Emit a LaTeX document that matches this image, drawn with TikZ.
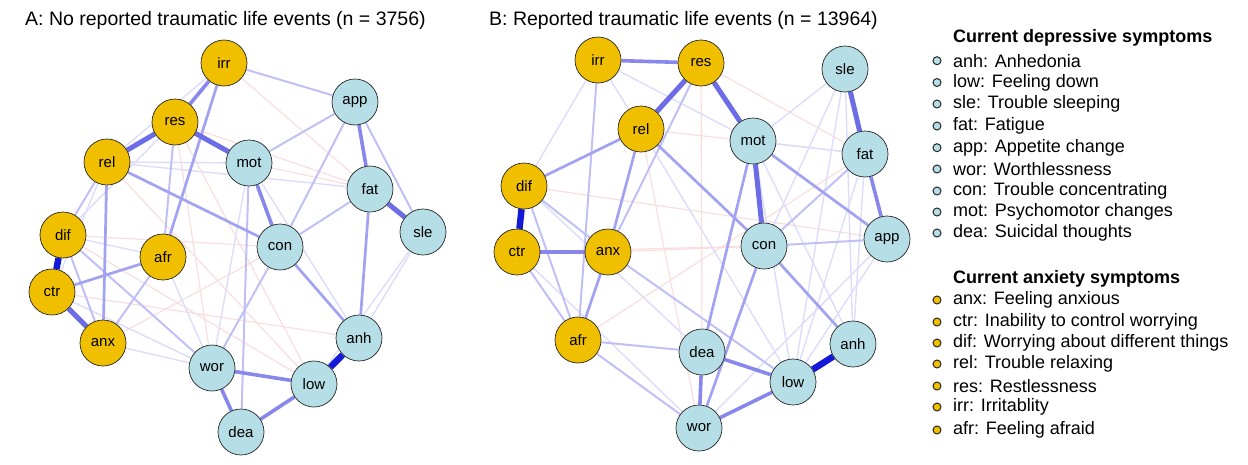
\documentclass[tikz,border=0pt]{standalone}
\usepackage{fontspec}
\setmainfont{Liberation Sans}
\pgfdeclarelayer{bg}
\pgfsetlayers{bg,main}
\definecolor{gold}{RGB}{240,192,0}
\definecolor{lblue}{RGB}{182,222,230}
\definecolor{c5}{RGB}{20,25,215}
\definecolor{c4}{RGB}{108,108,230}
\definecolor{c3}{RGB}{135,135,236}
\definecolor{c2}{RGB}{162,162,242}
\definecolor{c1}{RGB}{192,192,247}
\definecolor{c0}{RGB}{220,220,251}
\definecolor{cn}{RGB}{250,222,222}
\begin{document}
\begin{tikzpicture}[x=1pt,y=-1pt,
  sym/.style={circle,draw=black!85,line width=0.7pt,minimum size=46pt,inner sep=0pt,font=\fontsize{15}{15}\selectfont},
  an/.style={sym,fill=gold},
  dn/.style={sym,fill=lblue},
  e5/.style={draw=c5,line width=6.5pt},
  e4/.style={draw=c4,line width=5pt},
  e3/.style={draw=c3,line width=3.6pt},
  e2/.style={draw=c2,line width=2.7pt},
  e1/.style={draw=c1,line width=2pt},
  e0/.style={draw=c0,line width=1.4pt},
  n0/.style={draw=cn,line width=1.2pt},
  ttl/.style={anchor=west,inner sep=0pt,font=\fontsize{19.5}{20}\selectfont},
  leghead/.style={anchor=west,inner sep=0pt,font=\fontsize{18}{20}\selectfont\bfseries},
  legtxt/.style={anchor=west,inner sep=0pt,font=\fontsize{18}{20}\selectfont},
  legdot/.style={circle,draw=black!85,line width=1pt,minimum size=8pt,inner sep=0pt}
]
\path[use as bounding box] (0,0) rectangle (1248,464);

% titles
\node[ttl] (ta) at (25,20) {A: No reported traumatic life events (n = 3756)};
\node[ttl] (tb) at (489,20) {B: Reported traumatic life events (n = 13964)};

% panel A nodes
\node[an] (airr) at (224,63) {irr};
\node[an] (ares) at (175,122) {res};
\node[an] (arel) at (107,162) {rel};
\node[dn] (amot) at (249,163) {mot};
\node[dn] (aapp) at (355,102) {app};
\node[dn] (afat) at (370,189) {fat};
\node[dn] (asle) at (423,232) {sle};
\node[dn] (acon) at (280,247) {con};
\node[an] (adif) at (63,235) {dif};
\node[an] (aafr) at (163,257) {afr};
\node[an] (actr) at (52,292) {ctr};
\node[an] (aanx) at (103,343) {anx};
\node[dn] (awor) at (212,368) {wor};
\node[dn] (aanh) at (359,338) {anh};
\node[dn] (alow) at (314,384) {low};
\node[dn] (adea) at (241,432) {dea};

% panel B nodes
\node[an] (birr) at (598,60) {irr};
\node[an] (bres) at (701,63) {res};
\node[dn] (bsle) at (845,69) {sle};
\node[an] (brel) at (641,129) {rel};
\node[dn] (bmot) at (753,141) {mot};
\node[dn] (bfat) at (865,154) {fat};
\node[an] (bdif) at (524,186) {dif};
\node[an] (bctr) at (517,252) {ctr};
\node[an] (banx) at (608,252) {anx};
\node[dn] (bcon) at (764,246) {con};
\node[dn] (bapp) at (887,239) {app};
\node[an] (bafr) at (578,340) {afr};
\node[dn] (bdea) at (702,352) {dea};
\node[dn] (banh) at (853,344) {anh};
\node[dn] (blow) at (793,382) {low};
\node[dn] (bwor) at (699,428) {wor};

\begin{pgfonlayer}{bg}
% panel A edges
\foreach \u/\v in {airr/afat, amot/afat, adif/acon, aanx/acon, ares/awor, ares/alow, adif/alow, actr/aanh, arel/alow, ares/afat}
  \draw[n0] (\u) -- (\v);
\foreach \u/\v in {arel/afat, adif/aafr, aanx/awor, aafr/awor, asle/aanh, asle/alow, amot/awor, ares/adif, arel/actr, airr/arel, amot/aanh, arel/amot, actr/awor}
  \draw[e0] (\u) -- (\v);
\foreach \u/\v in {acon/awor, adif/awor, adif/aanx, arel/adif, aapp/acon, aapp/amot, aapp/asle, airr/aapp, acon/afat, aafr/aanx, ares/aafr, amot/adea}
  \draw[e1] (\u) -- (\v);
\foreach \u/\v in {arel/aanx, actr/aafr, arel/acon, acon/aanh, afat/aanh, airr/aafr}
  \draw[e2] (\u) -- (\v);
\foreach \u/\v in {airr/ares, amot/acon, aapp/afat, awor/alow, awor/adea, adea/alow}
  \draw[e3] (\u) -- (\v);
\foreach \u/\v in {ares/arel, ares/amot, actr/aanx, afat/asle}
  \draw[e4] (\u) -- (\v);
\foreach \u/\v in {adif/actr, aanh/alow}
  \draw[e5] (\u) -- (\v);

% panel B edges
\foreach \u/\v in {bres/bfat, banx/bcon, bafr/bfat, bres/bdea, brel/bfat, bctr/bcon, bdif/bapp, brel/bwor}
  \draw[n0] (\u) -- (\v);
\foreach \u/\v in {birr/bdif, birr/brel, birr/bmot, bsle/bmot, bsle/bcon, bmot/bfat, bsle/banh, bsle/blow, bapp/bwor, bapp/blow, bctr/bwor, bdif/bdea, brel/blow, bmot/blow, bmot/banh, bfat/blow, bfat/banh}
  \draw[e0] (\u) -- (\v);
\foreach \u/\v in {bdif/banx, bdif/bafr, birr/bafr, bres/banx, bafr/bdea, bafr/bwor, banx/blow, bfat/bcon, bcon/bapp, bctr/bafr}
  \draw[e1] (\u) -- (\v);
\foreach \u/\v in {brel/bdif, brel/banx, bcon/banh, bmot/bapp, brel/bcon, bcon/bwor, bmot/bdea, banx/bafr}
  \draw[e2] (\u) -- (\v);
\foreach \u/\v in {bfat/bapp, bdea/blow, bwor/blow, bdea/bwor, birr/bres, bctr/banx}
  \draw[e3] (\u) -- (\v);
\foreach \u/\v in {bres/brel, bres/bmot, bsle/bfat, bmot/bcon}
  \draw[e4] (\u) -- (\v);
\foreach \u/\v in {bdif/bctr, banh/blow}
  \draw[e5] (\u) -- (\v);
\end{pgfonlayer}

% legend
\node[leghead] (lh1) at (953,38) {Current depressive symptoms};
\node[legdot,fill=lblue] (d1) at (937,60.7) {};  \node[legtxt] (t1) at (953,60.7) {anh: Anhedonia};
\node[legdot,fill=lblue] (d2) at (937,82.5) {};  \node[legtxt] (t2) at (953,82.5) {low: Feeling down};
\node[legdot,fill=lblue] (d3) at (937,104) {};   \node[legtxt] (t3) at (953,104) {sle: Trouble sleeping};
\node[legdot,fill=lblue] (d4) at (937,126) {};   \node[legtxt] (t4) at (953,126) {fat: Fatigue};
\node[legdot,fill=lblue] (d5) at (937,147.7) {}; \node[legtxt] (t5) at (953,147.7) {app: Appetite change};
\node[legdot,fill=lblue] (d6) at (937,169) {};   \node[legtxt] (t6) at (953,169) {wor: Worthlessness};
\node[legdot,fill=lblue] (d7) at (937,191) {};   \node[legtxt] (t7) at (953,191) {con: Trouble concentrating};
\node[legdot,fill=lblue] (d8) at (937,212) {};   \node[legtxt] (t8) at (953,212) {mot: Psychomotor changes};
\node[legdot,fill=lblue] (d9) at (937,233) {};   \node[legtxt] (t9) at (953,233) {dea: Suicidal thoughts};

\node[leghead] (lh2) at (953,279) {Current anxiety symptoms};
\node[legdot,fill=gold] (g1) at (937,300) {}; \node[legtxt] (u1) at (953,300) {anx: Feeling anxious};
\node[legdot,fill=gold] (g2) at (937,322) {}; \node[legtxt] (u2) at (953,322) {ctr: Inability to control worrying};
\node[legdot,fill=gold] (g3) at (937,343) {}; \node[legtxt] (u3) at (953,343) {dif: Worrying about different things};
\node[legdot,fill=gold] (g4) at (937,364) {}; \node[legtxt] (u4) at (953,364) {rel: Trouble relaxing};
\node[legdot,fill=gold] (g5) at (937,386) {}; \node[legtxt] (u5) at (953,386) {res: Restlessness};
\node[legdot,fill=gold] (g6) at (937,407) {}; \node[legtxt] (u6) at (953,407) {irr: Irritablity};
\node[legdot,fill=gold] (g7) at (937,430) {}; \node[legtxt] (u7) at (953,430) {afr: Feeling afraid};
\end{tikzpicture}
\end{document}
